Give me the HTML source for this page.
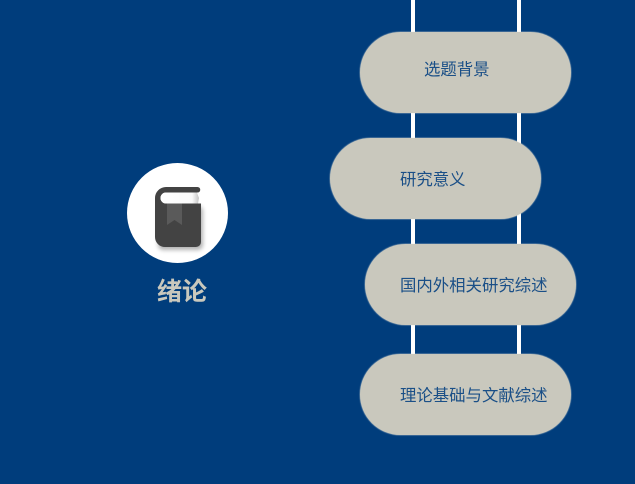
<!DOCTYPE html>
<html>
<head>
<meta charset="utf-8">
<style>
html,body{margin:0;padding:0;}
body{width:635px;height:484px;overflow:hidden;background:#003d7c;position:relative;font-family:"Liberation Sans","WenQuanYi Zen Hei","Noto Sans CJK SC",sans-serif;}
.line{position:absolute;top:0;height:354px;width:4px;background:#fff;}
.pill{position:absolute;width:211px;height:81px;border-radius:40.5px;background:#c9c8bd;box-shadow:0 0 1px 0.5px rgba(230,230,220,.5);}
.t{position:absolute;font-size:16.4px;line-height:20px;color:#1a4f87;white-space:nowrap;}
.circle{position:absolute;left:127px;top:163px;width:101px;height:100px;border-radius:50%;background:#fff;}
.title{position:absolute;left:157px;top:277px;font-size:25px;line-height:30px;font-weight:bold;color:#c9c8bd;white-space:nowrap;font-family:"Liberation Sans","Noto Sans CJK SC",sans-serif;}
svg{position:absolute;left:0;top:0;}
</style>
</head>
<body>
<div class="line" style="left:411px"></div>
<div class="line" style="left:517px"></div>
<div class="pill" style="left:360px;top:32px"></div>
<div class="pill" style="left:330px;top:138px"></div>
<div class="pill" style="left:365px;top:244px"></div>
<div class="pill" style="left:360px;top:354px"></div>
<div class="t" style="left:424px;top:60px">选题背景</div>
<div class="t" style="left:400px;top:170px">研究意义</div>
<div class="t" style="left:400px;top:276px">国内外相关研究综述</div>
<div class="t" style="left:400px;top:386px">理论基础与文献综述</div>
<div class="circle"></div>
<svg width="635" height="484" viewBox="0 0 635 484">
<defs>
<filter id="s" x="-30%" y="-30%" width="160%" height="160%"><feGaussianBlur stdDeviation="2"/></filter>
<linearGradient id="p" x1="0" x2="1" y1="0" y2="0"><stop offset="0" stop-color="#ffffff"/><stop offset="0.82" stop-color="#fbfbfb"/><stop offset="1" stop-color="#c4c4c4"/></linearGradient>
</defs>
<rect x="158" y="206" width="45" height="44" rx="5" fill="#000" opacity="0.3" filter="url(#s)"/>
<path d="M166 187H197.500A2.500 2.500 0 0 1 197.500 192.500H166A5.500 5.500 0 0 0 166 203.500H201V242A5 5 0 0 1 196 247H165A10 10 0 0 1 155 237V198A11 11 0 0 1 166 187Z" fill="#434343"/>
<path d="M166 192.500H197L199 198L198 203.500H166A5.500 5.500 0 0 1 166 192.500Z" fill="url(#p)"/>
<path d="M167 203.500H182V225L174.500 220L167 225Z" fill="#5a5a5a"/>
</svg>
<div class="title">绪论</div>
</body>
</html>
